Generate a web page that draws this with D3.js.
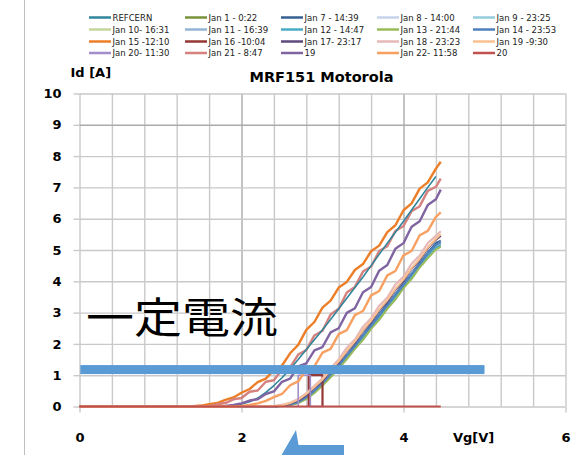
<!DOCTYPE html>
<html><head><meta charset="utf-8">
<script src="https://cdn.jsdelivr.net/npm/d3@7"></script>
<style>body{margin:0;background:#fff;overflow:hidden}</style>
</head><body><div id="chart"></div>
<script>
// ---------- DATA ----------
const vgA = [0,1.2,1.3,1.4,1.5,1.6,1.7,1.8,1.9,2.0,2.1,2.2,2.3,2.4,2.5,2.6,2.7,2.8,2.9,3.0,3.1,3.2,3.3,3.4,3.5,3.6,3.7,3.8,3.9,4.0,4.1,4.2,4.3,4.4,4.46];
const vgB = [0,2.4,2.5,2.6,2.7,2.8,2.9,3.0,3.1,3.2,3.3,3.4,3.5,3.6,3.7,3.8,3.9,4.0,4.1,4.2,4.3,4.4,4.46];

const refCern = [0,0,0,0,0,0,0,0,0.03,0.08,0.15,0.27,0.45,0.67,0.92,1.2,1.5,1.82,2.13,2.45,2.78,3.12,3.46,3.8,4.14,4.5,4.86,5.22,5.57,5.92,6.28,6.64,7.0,7.35,null];
const jan15 = [0,0,0,0.01,0.03,0.07,0.11,0.21,0.29,0.44,0.56,0.78,0.89,1.16,1.31,1.7,1.97,2.45,2.7,3.16,3.38,3.8,3.98,4.36,4.55,4.96,5.14,5.57,5.79,6.27,6.49,6.96,7.16,7.6,7.82];
const jan21 = [0,0,0,0,0,0.02,0.07,0.11,0.23,0.27,0.47,0.51,0.79,0.84,1.18,1.25,1.66,1.8,2.27,2.42,2.94,3.12,3.64,3.82,4.31,4.47,4.97,5.12,5.61,5.77,6.24,6.4,6.89,7.02,7.28];
const s19 = [0,0,0,0,0,0,0,0.02,0.05,0.1,0.19,0.23,0.4,0.48,0.79,0.89,1.28,1.38,1.79,1.9,2.37,2.5,2.99,3.14,3.65,3.82,4.34,4.52,5.04,5.22,5.74,5.92,6.44,6.62,6.93];
const jan22 = [0,0,0,0,0,0,0,0,0,0.02,0.05,0.1,0.18,0.3,0.4,0.68,0.8,1.18,1.28,1.72,1.84,2.31,2.44,2.92,3.05,3.55,3.69,4.19,4.33,4.83,4.97,5.47,5.61,6.06,6.2];

const jan1  = [0,0,0.02,0.06,0.13,0.27,0.47,0.72,0.98,1.28,1.58,1.9,2.22,2.54,2.86,3.18,3.52,3.84,4.18,4.5,4.84,5.12,5.2];
const jan7  = [0,0,0.02,0.07,0.15,0.3,0.52,0.76,1.04,1.33,1.65,1.96,2.3,2.62,2.95,3.27,3.6,3.93,4.26,4.58,4.92,5.22,5.3];
const jan8  = [0,0,0.02,0.06,0.14,0.28,0.5,0.72,1.02,1.28,1.62,1.9,2.26,2.55,2.92,3.2,3.58,3.86,4.24,4.52,4.9,5.14,5.25];
const jan9  = [0,0,0.02,0.05,0.12,0.25,0.44,0.68,0.94,1.24,1.52,1.86,2.14,2.5,2.78,3.14,3.42,3.8,4.08,4.46,4.74,5.05,5.1];
const jan10 = [0,0,0.02,0.05,0.12,0.26,0.45,0.7,0.96,1.26,1.55,1.88,2.18,2.52,2.82,3.16,3.47,3.82,4.13,4.48,4.8,5.08,5.15];
const jan11 = [0,0,0.02,0.06,0.13,0.27,0.48,0.7,0.99,1.26,1.6,1.88,2.24,2.52,2.9,3.16,3.56,3.82,4.22,4.48,4.88,5.1,5.2];
const jan12 = [0,0,0.02,0.05,0.12,0.25,0.46,0.69,0.97,1.25,1.57,1.87,2.2,2.51,2.84,3.15,3.49,3.81,4.15,4.47,4.82,5.08,5.15];
const jan13 = [0,0,0.01,0.05,0.11,0.24,0.43,0.67,0.93,1.22,1.51,1.84,2.13,2.48,2.77,3.12,3.42,3.78,4.08,4.44,4.74,5.02,5.1];
const jan14 = [0,0,0.02,0.06,0.14,0.29,0.5,0.74,1.02,1.3,1.63,1.92,2.27,2.57,2.92,3.22,3.57,3.88,4.23,4.54,4.9,5.16,5.25];
const jan17 = [0,0,0.03,0.09,0.19,0.36,0.6,0.82,1.14,1.4,1.76,2.04,2.42,2.7,3.07,3.35,3.73,4.02,4.4,4.68,5.05,5.33,5.45];
const jan18 = [0,0.01,0.05,0.12,0.24,0.42,0.66,0.9,1.22,1.5,1.88,2.14,2.55,2.82,3.22,3.48,3.9,4.15,4.56,4.82,5.22,5.45,5.6];
const jan19 = [0,0.01,0.04,0.11,0.22,0.4,0.62,0.86,1.16,1.44,1.78,2.08,2.44,2.74,3.1,3.4,3.76,4.06,4.42,4.72,5.08,5.36,5.5];

const jan16V = [2.83,2.83,3.0,3.0];
const jan16I = [0,1,1,0];
const jan20V = [2.7,2.7,2.85,2.85,3.0];
const jan20I = [0,1,1,0,0];
const s20V = [0,4.46];
const s20I = [0,0];

const seriesNames = ["REFCERN","Jan 1 - 0:22","Jan 7 - 14:39","Jan 8 - 14:00","Jan 9 - 23:25",
  "Jan 10- 16:31","Jan 11 - 16:39","Jan 12 -  14:47","Jan 13 - 21:44","Jan 14 - 23:53",
  "Jan 15 -12:10","Jan 16 -10:04","Jan 17- 23:17","Jan 18 - 23:23","Jan 19 -9:30",
  "Jan 20- 11:30","Jan 21 - 8:47","19","Jan 22- 11:58","20"];
const seriesV = [vgA,vgB,vgB,vgB,vgB,vgB,vgB,vgB,vgB,vgB,vgA,jan16V,vgB,vgB,vgB,jan20V,vgA,vgA,vgA,s20V];
const seriesI = [refCern,jan1,jan7,jan8,jan9,jan10,jan11,jan12,jan13,jan14,jan15,jan16I,jan17,jan18,jan19,jan20I,jan21,s19,jan22,s20I];

const xTicks = [0,2,4,6];
const yTicks = [0,1,2,3,4,5,6,7,8,9,10];

// ---------- STYLE ----------
const seriesColors = ["#31859C","#77933C","#376092","#C6D3EA","#93CDDD",
  "#C3D69B","#95B3D7","#4BACC6","#9BBB59","#4F81BD",
  "#EC7E28","#953735","#604A7B","#E6B9B8","#FAC090",
  "#A28ECA","#D5827F","#8064A2","#F7A062","#C0504D"];
const seriesWidths = [1.6,2,2,2,2,2,2,2,2,2,2.4,2.2,2,2.2,2,1.6,2.4,2.4,2.4,2];
const drawOrder = [1,2,3,4,5,6,7,8,9,10,11,12,13,14,15,16,0,17,18,19];

const W = 581, H = 455;
const svg = d3.select("#chart").append("svg").attr("width",W).attr("height",H)
  .style("font-family","DejaVu Sans, sans-serif");
svg.append("rect").attr("width",W).attr("height",H).attr("fill","#fff");

const x = d3.scaleLinear().domain([0,6]).range([79.5,565.5]);
const y = d3.scaleLinear().domain([0,10]).range([406.5,93.5]);

// left frame line
svg.append("line").attr("x1",24.5).attr("x2",24.5).attr("y1",0).attr("y2",H)
  .attr("stroke","#BFBFBF").attr("stroke-width",1);

// grid
const gridV = d3.range(16).map(k => +(k*0.4).toFixed(1));
const gx = svg.append("g").attr("transform",`translate(0,${y(0)})`)
  .call(d3.axisBottom(x).tickValues(gridV).tickSize(-(y(0)-y(10))).tickFormat(""));
gx.select(".domain").remove();
gx.selectAll("line").attr("stroke", d => (d===2||d===4) ? "#ABABAB" : "#C9C9C9").attr("stroke-width",1.4);

const gy = svg.append("g").attr("transform",`translate(${x(0)},0)`)
  .call(d3.axisLeft(y).tickValues(yTicks).tickSize(-(x(6)-x(0))).tickFormat(""));
gy.select(".domain").remove();
gy.selectAll("line").attr("stroke", d => d===9 ? "#ABABAB" : "#C9C9C9").attr("stroke-width",1.4);

// axes with labels
const ay = svg.append("g").attr("transform",`translate(${x(0)},0)`)
  .call(d3.axisLeft(y).tickValues(yTicks).tickSize(6).tickPadding(12).tickFormat(d3.format("d")));
ay.select(".domain").remove();
ay.selectAll("line").attr("stroke","#C9C9C9").attr("stroke-width",1.4);
ay.selectAll("text").attr("font-family","DejaVu Sans").attr("font-weight","bold").attr("font-size",13).attr("fill","#000");

const ax = svg.append("g").attr("transform",`translate(0,${y(0)})`)
  .call(d3.axisBottom(x).tickValues(xTicks).tickSize(6).tickPadding(20).tickFormat(d3.format("d")));
ax.select(".domain").remove();
ax.selectAll("line").attr("stroke","#C9C9C9").attr("stroke-width",1.4);
ax.selectAll("text").attr("font-family","DejaVu Sans").attr("font-weight","bold").attr("font-size",13).attr("fill","#000");

// series
const line = d3.line().defined(d => d[1] != null).x(d => x(d[0])).y(d => y(d[1]));
const plot = svg.append("g");
drawOrder.forEach(k => {
  const vs = seriesV[k], is = seriesI[k];
  const n = Math.min(vs.length, is.length);
  const pts = d3.range(n).map(j => [vs[j], is[j]]);
  plot.append("path").datum(pts).attr("d", line)
    .attr("fill","none").attr("stroke",seriesColors[k])
    .attr("stroke-width",seriesWidths[k]).attr("stroke-linejoin","round");
});

// titles
svg.append("text").attr("x",321.5).attr("y",81.5).attr("text-anchor","middle")
  .attr("font-weight","bold").attr("font-size",14.5).attr("fill","#000").text("MRF151 Motorola");
svg.append("text").attr("x",70.5).attr("y",76.5)
  .attr("font-weight","bold").attr("font-size",13).attr("fill","#000").text("Id [A]");
svg.append("text").attr("x",453).attr("y",442)
  .attr("font-weight","bold").attr("font-size",13).attr("fill","#000").text("Vg[V]");

// legend
const rowY = [17.5,29.5,41.5,53];
const lg = svg.append("g");
seriesNames.forEach((name, k) => {
  const col = k % 5, row = Math.floor(k / 5);
  const x0 = 89 + col*96, yy = rowY[row];
  lg.append("line").attr("x1",x0).attr("x2",x0+22).attr("y1",yy).attr("y2",yy)
    .attr("stroke",seriesColors[k]).attr("stroke-width",2.5);
  lg.append("text").attr("x",x0+23.5).attr("y",yy+3).attr("font-size",8.5)
    .attr("fill","#222").text(name);
});

// annotations
svg.append("rect").attr("x",x(0.01)).attr("y",y(1.18)-4.5)
  .attr("width",x(5.0)-x(0.01)).attr("height",9).attr("fill","#5B9BD5");

svg.append("text").attr("x",86).attr("y",333)
  .attr("font-family","Noto Sans CJK JP").attr("font-size",42)
  .attr("textLength",192).attr("lengthAdjust","spacingAndGlyphs")
  .attr("fill","#000").text("一定電流");

svg.append("path").attr("d","M296,430 L298.5,445 L344,445 L344,456 L281,456 Z")
  .attr("fill","#5B9BD5");
</script>
</body></html>
